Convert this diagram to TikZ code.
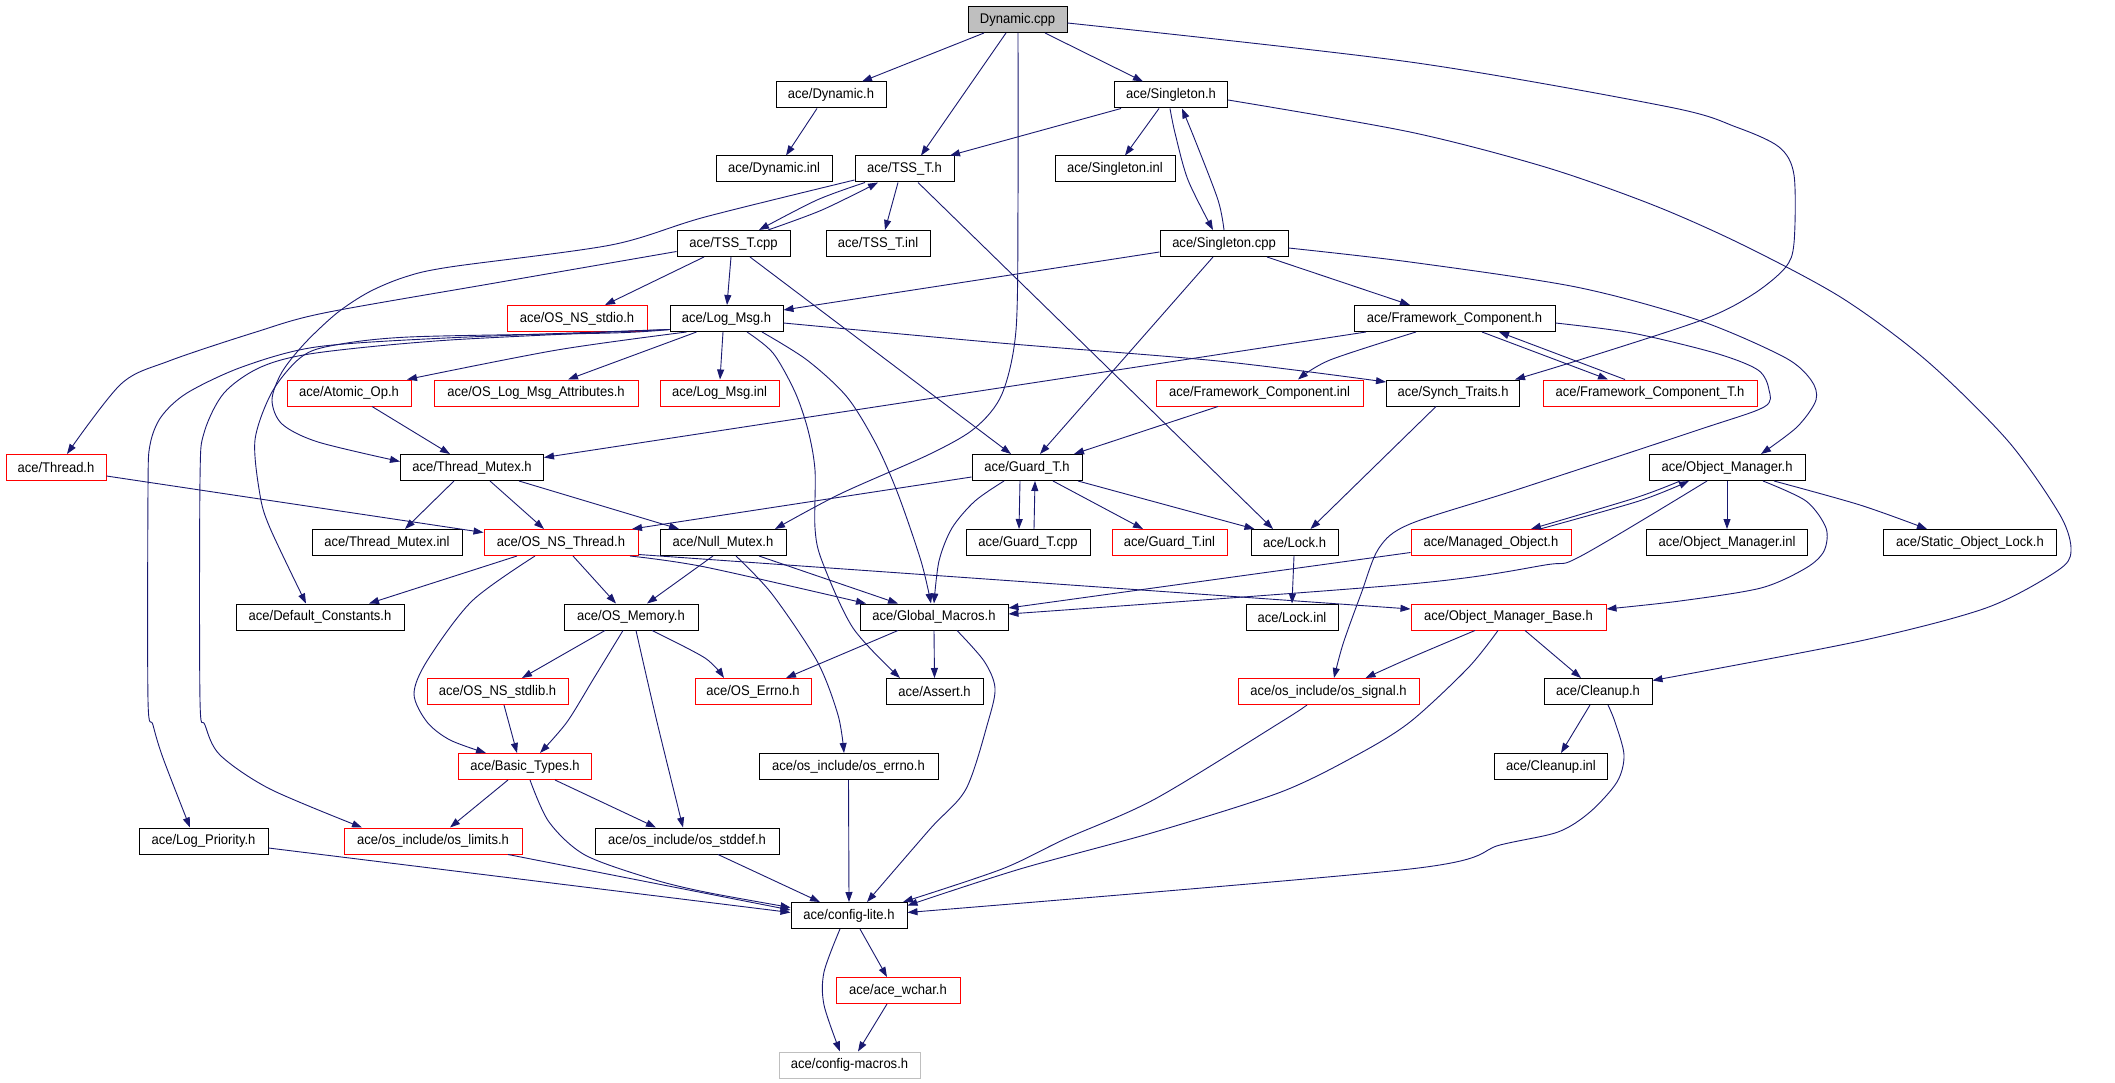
\documentclass[tikz,border=0pt]{standalone}
\usepackage{fontspec}
\setmainfont{Liberation Sans}[FakeStretch=0.93]
\usetikzlibrary{arrows.meta}
\definecolor{edgecol}{HTML}{191970}
\definecolor{graybox}{HTML}{BFBFBF}
\begin{document}
\begin{tikzpicture}[x=1pt,y=-1pt,
  nd/.style={draw=black, line width=1pt, rectangle, minimum height=26pt, inner sep=0pt, font=\fontsize{14}{16}\selectfont, fill=white},
  rd/.style={nd, draw=red},
  bw/.style={minimum width=#1pt},
  e/.style={draw=edgecol, line width=0.9pt, -{Triangle[length=10pt,width=7pt]}},
  sm/.style={smooth, tension=0.5}]
\useasboundingbox[fill=white] (0,0) rectangle (2115,1083);

\node[nd,bw=99,fill=graybox] (dyncpp) at (1017.5,19.5) {Dynamic.cpp};
\node[nd,bw=110] (dynh) at (831,95) {ace/Dynamic.h};
\node[nd,bw=113] (singh) at (1171,95) {ace/Singleton.h};
\node[nd,bw=116] (dyninl) at (774,169) {ace/Dynamic.inl};
\node[nd,bw=99] (tssh) at (904.5,169) {ace/TSS\_T.h};
\node[nd,bw=120] (singinl) at (1115,169) {ace/Singleton.inl};
\node[nd,bw=113] (tsscpp) at (733.5,243.5) {ace/TSS\_T.cpp};
\node[nd,bw=104] (tssinl) at (878,243.5) {ace/TSS\_T.inl};
\node[nd,bw=128] (singcpp) at (1224,243.5) {ace/Singleton.cpp};
\node[rd,bw=140] (stdio) at (577,318.5) {ace/OS\_NS\_stdio.h};
\node[nd,bw=113] (logmsg) at (726.5,318.5) {ace/Log\_Msg.h};
\node[nd,bw=201] (fch) at (1454.5,318.5) {ace/Framework\_Component.h};
\node[rd,bw=124] (atomic) at (349,393) {ace/Atomic\_Op.h};
\node[rd,bw=204] (logattr) at (536,393) {ace/OS\_Log\_Msg\_Attributes.h};
\node[rd,bw=119] (loginl) at (719.5,393) {ace/Log\_Msg.inl};
\node[rd,bw=207] (fcinl) at (1259.5,393) {ace/Framework\_Component.inl};
\node[nd,bw=133] (synch) at (1453,393) {ace/Synch\_Traits.h};
\node[rd,bw=214] (fct) at (1650,393) {ace/Framework\_Component\_T.h};
\node[rd,bw=100] (thread) at (56,467.5) {ace/Thread.h};
\node[nd,bw=143] (tmutex) at (472,467.5) {ace/Thread\_Mutex.h};
\node[nd,bw=110] (guard) at (1027,467.5) {ace/Guard\_T.h};
\node[nd,bw=156] (om) at (1727,467.5) {ace/Object\_Manager.h};
\node[nd,bw=150] (tmutexinl) at (387,542.5) {ace/Thread\_Mutex.inl};
\node[rd,bw=154] (osthread) at (561,542.5) {ace/OS\_NS\_Thread.h};
\node[nd,bw=126] (nullm) at (723,542.5) {ace/Null\_Mutex.h};
\node[nd,bw=124] (guardcpp) at (1028,542.5) {ace/Guard\_T.cpp};
\node[rd,bw=115] (guardinl) at (1169.5,542.5) {ace/Guard\_T.inl};
\node[nd,bw=87] (lock) at (1294.5,542.5) {ace/Lock.h};
\node[rd,bw=160] (managed) at (1491,542.5) {ace/Managed\_Object.h};
\node[nd,bw=161] (ominl) at (1727,542.5) {ace/Object\_Manager.inl};
\node[nd,bw=173] (sol) at (1970,542.5) {ace/Static\_Object\_Lock.h};
\node[nd,bw=168] (defc) at (320,617) {ace/Default\_Constants.h};
\node[nd,bw=134] (osmem) at (631,617) {ace/OS\_Memory.h};
\node[nd,bw=148] (gmac) at (934,617) {ace/Global\_Macros.h};
\node[nd,bw=92] (lockinl) at (1292,617) {ace/Lock.inl};
\node[rd,bw=195] (omb) at (1508.5,617) {ace/Object\_Manager\_Base.h};
\node[rd,bw=141] (stdlib) at (497.5,691.5) {ace/OS\_NS\_stdlib.h};
\node[rd,bw=116] (oserrno) at (753,691.5) {ace/OS\_Errno.h};
\node[nd,bw=97] (assert) at (934.5,691.5) {ace/Assert.h};
\node[rd,bw=181] (signal) at (1328.5,691.5) {ace/os\_include/os\_signal.h};
\node[nd,bw=108] (cleanup) at (1598,691.5) {ace/Cleanup.h};
\node[rd,bw=133] (basic) at (525,766.5) {ace/Basic\_Types.h};
\node[nd,bw=179] (errnoh) at (848.5,766.5) {ace/os\_include/os\_errno.h};
\node[nd,bw=113] (cleaninl) at (1551,766.5) {ace/Cleanup.inl};
\node[nd,bw=129] (logpri) at (203.5,841) {ace/Log\_Priority.h};
\node[rd,bw=178] (limits) at (433,841) {ace/os\_include/os\_limits.h};
\node[nd,bw=184] (stddef) at (687,841) {ace/os\_include/os\_stddef.h};
\node[nd,bw=116] (cfglite) at (849,915.5) {ace/config-lite.h};
\node[rd,bw=124] (wchar) at (898,990.5) {ace/ace\_wchar.h};
\node[nd,bw=141,draw=graybox] (cfgmac) at (849.5,1065) {ace/config-macros.h};

% Dynamic.cpp
\draw[e] ([xshift=-33.5pt]dyncpp.south) -- ([xshift=31pt]dynh.north);
\draw[e] ([xshift=-11.5pt]dyncpp.south) -- ([xshift=16.5pt]tssh.north);
\draw[e] plot[sm] coordinates {([xshift=0.5pt]dyncpp.south) (1018,200) (1016,330) (1002,394) (975,428) (930,454) (840,494) ([xshift=52pt]nullm.north)};
\draw[e] ([xshift=27.5pt]dyncpp.south) -- ([xshift=-28pt]singh.north);
\draw[e] plot[sm] coordinates {([yshift=-3.5pt]dyncpp.east) (1410,62) (1669,107) (1736,127) (1779,147) (1794,175) (1794,243) (1785,268) (1752,295) (1702,320) (1576,361) ([xshift=62pt]synch.north)};
% Dynamic.h, Singleton
\draw[e] ([xshift=-14pt]dynh.south) -- ([xshift=12pt]dyninl.north);
\draw[e] ([xshift=-50pt]singh.south) -- ([xshift=45.5pt]tssh.north);
\draw[e] ([xshift=-12pt]singh.south) -- ([xshift=10pt]singinl.north);
\draw[e] plot[sm] coordinates {([xshift=-1pt]singh.south) (1175,133) (1188,180) ([xshift=-11pt]singcpp.north)};
\draw[e] plot[sm] coordinates {(singcpp.north) (1218,200) (1195,140) ([xshift=11pt]singh.south)};
\draw[e] plot[sm] coordinates {([yshift=-5pt]singh.east) (1410,132) (1545,167) (1653,205) (1743,245) (1842,298) (1927,361) (2008,441) (2060,515) (2071,551) (2057,571) (1986,608) (1860,641) ([yshift=11pt]cleanup.east)};
% TSS_T
\draw[e] plot[sm] coordinates {([xshift=-39.5pt]tssh.south) (817,200) ([xshift=25.5pt]tsscpp.north)};
\draw[e] plot[sm] coordinates {([xshift=34.5pt]tsscpp.north) (822,210) ([xshift=-26.5pt]tssh.south)};
\draw[e] ([xshift=-6.5pt]tssh.south) -- ([xshift=7pt]tssinl.north);
\draw[e] plot[sm] coordinates {([yshift=-11pt]tssh.west) (705,217) (611,245) (450,267) (405,277) (369,292) (337,313) (305,343) (282,372) (272,400) (282,424) (318,442) ([yshift=6pt]tmutex.west)};
\draw[e] ([xshift=13.5pt]tssh.south) -- ([xshift=-21.5pt]lock.north);
\draw[e] ([xshift=-29.5pt]tsscpp.south) -- ([xshift=28pt]stdio.north);
\draw[e] ([xshift=-2.5pt]tsscpp.south) -- ([xshift=0.5pt]logmsg.north);
\draw[e] ([xshift=16.5pt]tsscpp.south) -- ([xshift=-16pt]guard.north);
\draw[e] plot[sm] coordinates {([yshift=-8pt]tsscpp.west) (495,283) (324,313) (256,332) (169,361) (121,384) ([xshift=11pt]thread.north)};
% Singleton.cpp
\draw[e] ([yshift=-8.5pt]singcpp.west) -- ([yshift=8.5pt]logmsg.east);
\draw[e] ([xshift=-11pt]singcpp.south) -- ([xshift=13pt]guard.north);
\draw[e] ([xshift=43pt]singcpp.south) -- ([xshift=-44.5pt]fch.north);
\draw[e] plot[sm] coordinates {([yshift=-4.5pt]singcpp.east) (1410,262) (1576,287) (1698,320) (1784,357) (1811,380) (1816,400) (1797,427) ([xshift=34pt]om.north)};
% Framework_Component
\draw[e] ([xshift=-88.5pt]fch.south) -- ([yshift=10pt]tmutex.east);
\draw[e] plot[sm] coordinates {([xshift=-38.5pt]fch.south) (1330,360) ([xshift=38.5pt]fcinl.north)};
\draw[e] ([xshift=27.5pt]fch.south) -- ([xshift=-42pt]fct.north);
\draw[e] ([xshift=-25pt]fct.north) -- ([xshift=44.5pt]fch.south);
\draw[e] plot[sm] coordinates {([yshift=-4.5pt]fch.east) (1632,333) (1715,353) (1758,370) (1769,390) (1764,407) (1698,430) (1516,490) (1410,524) (1379,548) (1361,594) (1343,644) ([xshift=5.5pt]signal.north)};
\draw[e] ([xshift=-41.5pt]fcinl.south) -- ([xshift=47pt]guard.north);
\draw[e] ([xshift=-17pt]synch.south) -- ([xshift=16pt]lock.north);
% Log_Msg
\draw[e] plot[sm] coordinates {([yshift=-4.5pt]logmsg.east) (1000,343) (1218,361) ([yshift=11pt]synch.west)};
\draw[e] plot[sm] coordinates {([xshift=-40pt]logmsg.south) (557,350) ([xshift=58pt]atomic.north)};
\draw[e] ([xshift=-30pt]logmsg.south) -- ([xshift=32pt]logattr.north);
\draw[e] ([xshift=-3.5pt]logmsg.south) -- ([xshift=0.5pt]loginl.north);
\draw[e] plot[sm] coordinates {([xshift=20.5pt]logmsg.south) (773,353) (795,392) (808,430) (815,470) (815,528) (822,561) (853,628) ([xshift=-34.5pt]assert.north)};
\draw[e] plot[sm] coordinates {([xshift=35.5pt]logmsg.south) (807,360) (847,397) (876,444) (898,494) (921,561) ([xshift=-3pt]gmac.north)};
\draw[e] plot[sm] coordinates {([yshift=-11pt]logmsg.west) (612,333) (409,337) (330,346) (300,358) (272,392) (255,440) (260,495) (270,528) ([xshift=-14pt]defc.north)};
\draw[e] plot[sm] coordinates {([yshift=-11pt]logmsg.west) (446,338) (316,347) (242,367) (187,393) (161,417) (150,445) (148,490) (148,700) (153,725) (163,758) ([xshift=-13.5pt]logpri.north)};
\draw[e] plot[sm] coordinates {([yshift=-11pt]logmsg.west) (450,340) (316,353) (261,367) (224,393) (204,433) (200,480) (200,700) (205,725) (220,755) (270,789) ([xshift=-71pt]limits.north)};
% middle
\draw[e] ([xshift=23pt]atomic.south) -- ([xshift=-22pt]tmutex.north);
\draw[e] ([yshift=-8.5pt]thread.east) -- ([yshift=10pt]osthread.west);
\draw[e] ([xshift=-18pt]tmutex.south) -- ([xshift=18pt]tmutexinl.north);
\draw[e] ([xshift=18pt]tmutex.south) -- ([xshift=-17pt]osthread.north);
\draw[e] ([xshift=47pt]tmutex.south) -- ([xshift=-44pt]nullm.north);
\draw[e] ([yshift=-9.5pt]guard.west) -- ([xshift=71pt]osthread.north);
\draw[e] ([xshift=-7pt]guard.south) -- ([xshift=-9pt]guardcpp.north);
\draw[e] ([xshift=6pt]guardcpp.north) -- ([xshift=8pt]guard.south);
\draw[e] ([xshift=26pt]guard.south) -- ([xshift=-26.5pt]guardinl.north);
\draw[e] ([xshift=51pt]guard.south) -- ([xshift=-40pt]lock.north);
\draw[e] plot[sm] coordinates {([xshift=-23pt]guard.south) (975,501) (952,528) (939,561) (gmac.north)};
\draw[e] ([xshift=-0.5pt]lock.south) -- (lockinl.north);
\draw[e] ([xshift=-10pt]nullm.south) -- ([xshift=16pt]osmem.north);
\draw[e] ([xshift=36pt]nullm.south) -- ([xshift=-36pt]gmac.north);
\draw[e] plot[sm] coordinates {([xshift=13pt]nullm.south) (772,594) (817,661) (838,715) ([xshift=-4.5pt]errnoh.north)};
\draw[e] ([xshift=-44pt]osthread.south) -- ([xshift=49pt]defc.north);
\draw[e] ([xshift=12pt]osthread.south) -- ([xshift=-15pt]osmem.north);
\draw[e] plot[sm] coordinates {([xshift=-26pt]osthread.south) (472,601) (427,661) (414,694) (427,722) (450,740) ([xshift=-39pt]basic.north)};
\draw[e] plot[sm] coordinates {([xshift=69pt]osthread.south) (705,567) ([xshift=-68pt]gmac.north)};
\draw[e] ([yshift=-12pt]osthread.east) -- ([yshift=8pt]omb.west);
\draw[e] ([xshift=-26pt]osmem.south) -- ([xshift=24.5pt]stdlib.north);
\draw[e] plot[sm] coordinates {([xshift=-8pt]osmem.south) (594,678) (567,722) ([xshift=15pt]basic.north)};
\draw[e] plot[sm] coordinates {([xshift=5pt]osmem.south) (657,722) ([xshift=-4pt]stddef.north)};
\draw[e] plot[sm] coordinates {([xshift=21pt]osmem.south) (705,658) ([xshift=-29pt]oserrno.north)};
\draw[e] ([xshift=-36pt]gmac.south) -- ([xshift=33pt]oserrno.north);
\draw[e] (gmac.south) -- (assert.north);
\draw[e] plot[sm] coordinates {([xshift=23pt]gmac.south) (984,661) (995,688) (988,722) (966,789) (930,829) ([xshift=18pt]cfglite.north)};
\draw[e] ([xshift=6.5pt]stdlib.south) -- ([xshift=-8pt]basic.north);
\draw[e] ([xshift=-17pt]basic.south) -- ([xshift=17pt]limits.north);
\draw[e] ([xshift=30pt]basic.south) -- ([xshift=-31pt]stddef.north);
\draw[e] plot[sm] coordinates {([xshift=5pt]basic.south) (549,822) (585,855) (652,879) (705,892) ([yshift=8pt]cfglite.west)};
\draw[e] ([yshift=-7pt]logpri.east) -- ([yshift=3pt]cfglite.west);
\draw[e] ([xshift=75pt]limits.south) -- ([yshift=5.5pt]cfglite.west);
\draw[e] ([xshift=31pt]stddef.south) -- ([xshift=-29pt]cfglite.north);
\draw[e] (errnoh.south) -- (cfglite.north);
% right side
\draw[e] plot[sm] coordinates {([xshift=-21.5pt]signal.south) (1281,722) (1155,799) (1065,839) (1002,869) ([xshift=54pt]cfglite.north)};
\draw[e] plot[sm] coordinates {([xshift=-10.5pt]omb.south) (1468,668) (1410,722) (1357,755) (1281,792) (1155,832) (1020,869) ([yshift=10pt]cfglite.east)};
\draw[e] plot[sm] coordinates {([xshift=-33.5pt]omb.south) (1410,658) ([xshift=37pt]signal.north)};
\draw[e] ([xshift=16.5pt]omb.south) -- ([xshift=-17pt]cleanup.north);
\draw[e] ([xshift=-8pt]cleanup.south) -- ([xshift=10pt]cleaninl.north);
\draw[e] plot[sm] coordinates {([xshift=10pt]cleanup.south) (1615,722) (1624,755) (1617,782) (1590,812) (1558,832) (1500,845) (1410,869) ([yshift=3pt]cfglite.east)};
\draw[e] ([xshift=11pt]cfglite.south) -- ([xshift=-11pt]wchar.north);
\draw[e] plot[sm] coordinates {([xshift=-9pt]cfglite.south) (824,972) (824,1005) ([xshift=-9.5pt]cfgmac.north)};
\draw[e] ([xshift=-11pt]wchar.south) -- ([xshift=8.5pt]cfgmac.north);
% Object_Manager
\draw[e] plot[sm] coordinates {([xshift=-47pt]om.south) (1635,498) ([xshift=40pt]managed.north)};
\draw[e] plot[sm] coordinates {([xshift=49pt]managed.north) (1639,501) ([xshift=-38pt]om.south)};
\draw[e] (om.south) -- (ominl.north);
\draw[e] plot[sm] coordinates {([xshift=47pt]om.south) (1860,505) ([xshift=-43pt]sol.north)};
\draw[e] plot[sm] coordinates {([xshift=36pt]om.south) (1806,501) (1826,528) (1824,551) (1806,568) (1761,588) (1680,601) ([yshift=8pt]omb.east)};
\draw[e] plot[sm] coordinates {([xshift=-20pt]om.south) (1581,556) (1545,565) (1410,584) ([yshift=3pt]gmac.east)};
\draw[e] ([yshift=-10pt]managed.west) -- ([yshift=9pt]gmac.east);
\end{tikzpicture}
\end{document}
